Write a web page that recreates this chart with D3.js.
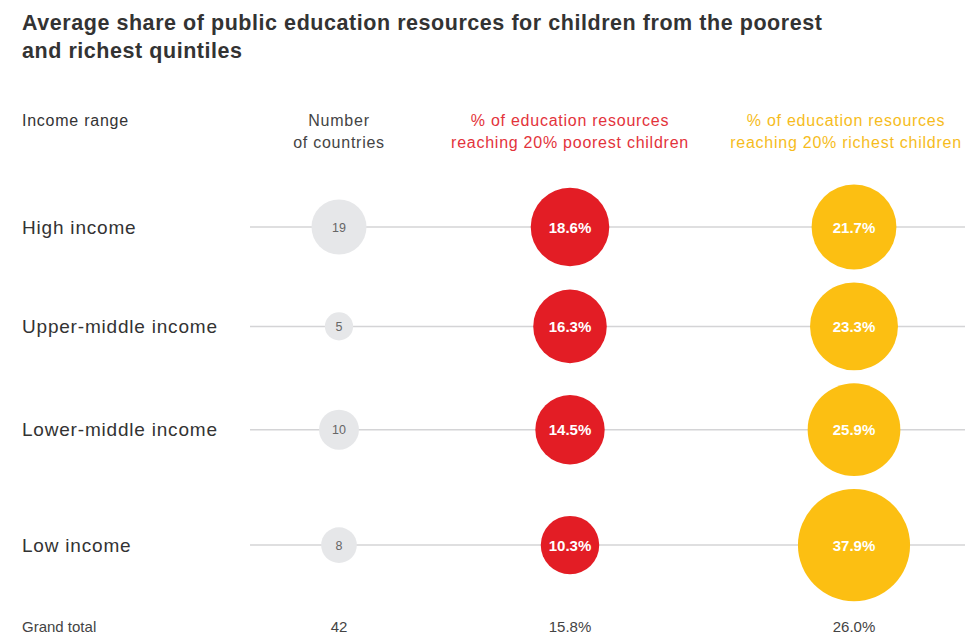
<!DOCTYPE html>
<html><head><meta charset="utf-8">
<script src="https://cdn.jsdelivr.net/npm/d3@7"></script>
<style>
body{margin:0;background:#fff;}
svg{display:block;}
</style></head>
<body>
<svg id="c" width="968" height="636"></svg>
<script>
const titleLines = ["Average share of public education resources for children from the poorest", "and richest quintiles"];
const categories = ["High income", "Upper-middle income", "Lower-middle income", "Low income"];
const countries = [19, 5, 10, 8];
const poorest = [18.6, 16.3, 14.5, 10.3];
const richest = [21.7, 23.3, 25.9, 37.9];
const totalLabel = "Grand total";
const totals = ["42", "15.8%", "26.0%"];
const headers = [
  {lines: ["Income range"], color: "#333"},
  {lines: ["Number", "of countries"], color: "#444"},
  {lines: ["% of education resources", "reaching 20% poorest children"], color: "#e3333b"},
  {lines: ["% of education resources", "reaching 20% richest children"], color: "#f6bc1c"}
];

const svg = d3.select("#c");
const sans = "'Liberation Sans', Arial, Helvetica, sans-serif";

// title
svg.append("g").selectAll("text").data(titleLines).join("text")
  .attr("x", 22).attr("y", (d, i) => 30 + i * 28)
  .attr("font-family", sans).attr("font-weight", "bold").attr("font-size", 21.5)
  .attr("letter-spacing", 0.55)
  .attr("fill", "#333").text(d => d);

// columns
const colX = d3.scaleOrdinal().domain([0, 1, 2, 3]).range([22, 339, 570, 846]);
const rPct = d3.scaleSqrt().domain([0, 40]).range([0, 57.6]);
const rCnt = d3.scaleSqrt().domain([0, 19]).range([0, 27.5]);

// headers
const hg = svg.append("g");
headers.forEach((h, i) => {
  hg.append("g").selectAll("text").data(h.lines).join("text")
    .attr("x", colX(i)).attr("y", (d, j) => 126 + j * 22)
    .attr("text-anchor", i === 0 ? "start" : "middle")
    .attr("font-family", sans).attr("font-size", 16).attr("letter-spacing", 0.75)
    .attr("fill", h.color).text(d => d);
});

// row y layout from circle sizes
const pad = 13;
const maxR = categories.map((c, i) => Math.max(rPct(poorest[i]), rPct(richest[i]), rCnt(countries[i])));
const rowY = [];
categories.forEach((c, i) => {
  rowY.push(i === 0 ? 227 : rowY[i - 1] + maxR[i - 1] + maxR[i] + pad);
});

const rows = svg.append("g").selectAll("g").data(categories).join("g")
  .attr("transform", (d, i) => `translate(0,${rowY[i]})`);

rows.append("line").attr("x1", 250).attr("x2", 965).attr("y1", 0).attr("y2", 0)
  .attr("stroke", "#d4d4d6").attr("stroke-width", 1.5);

rows.append("text").attr("x", 22).attr("y", 6.5)
  .attr("font-family", sans).attr("font-size", 19).attr("letter-spacing", 0.8).attr("fill", "#333")
  .text(d => d);

rows.append("circle").attr("cx", colX(1)).attr("cy", 0)
  .attr("r", (d, i) => rCnt(countries[i])).attr("fill", "#e6e7e9");
rows.append("text").attr("x", colX(1)).attr("y", 4.5).attr("text-anchor", "middle")
  .attr("font-family", sans).attr("font-size", 12.5).attr("fill", "#666")
  .text((d, i) => countries[i]);

rows.append("circle").attr("cx", colX(2)).attr("cy", 0)
  .attr("r", (d, i) => rPct(poorest[i])).attr("fill", "#e31d25");
rows.append("text").attr("x", colX(2)).attr("y", 5.5).attr("text-anchor", "middle")
  .attr("font-family", sans).attr("font-weight", "bold").attr("font-size", 15).attr("fill", "#fff")
  .text((d, i) => poorest[i].toFixed(1) + "%");

rows.append("circle").attr("cx", colX(3) + 8).attr("cy", 0)
  .attr("r", (d, i) => rPct(richest[i])).attr("fill", "#fcbf12");
rows.append("text").attr("x", colX(3) + 8).attr("y", 5.5).attr("text-anchor", "middle")
  .attr("font-family", sans).attr("font-weight", "bold").attr("font-size", 15).attr("fill", "#fff")
  .text((d, i) => richest[i].toFixed(1) + "%");

// grand total
const tg = svg.append("g");
tg.append("text").attr("x", 22).attr("y", 632)
  .attr("font-family", sans).attr("font-size", 15).attr("fill", "#444").text(totalLabel);
tg.selectAll("text.t").data(totals).join("text").attr("class", "t")
  .attr("x", (d, i) => colX(i + 1) + (i === 2 ? 8 : 0)).attr("y", 632)
  .attr("text-anchor", "middle")
  .attr("font-family", sans).attr("font-size", 15).attr("fill", "#444").text(d => d);
</script>
</body></html>
